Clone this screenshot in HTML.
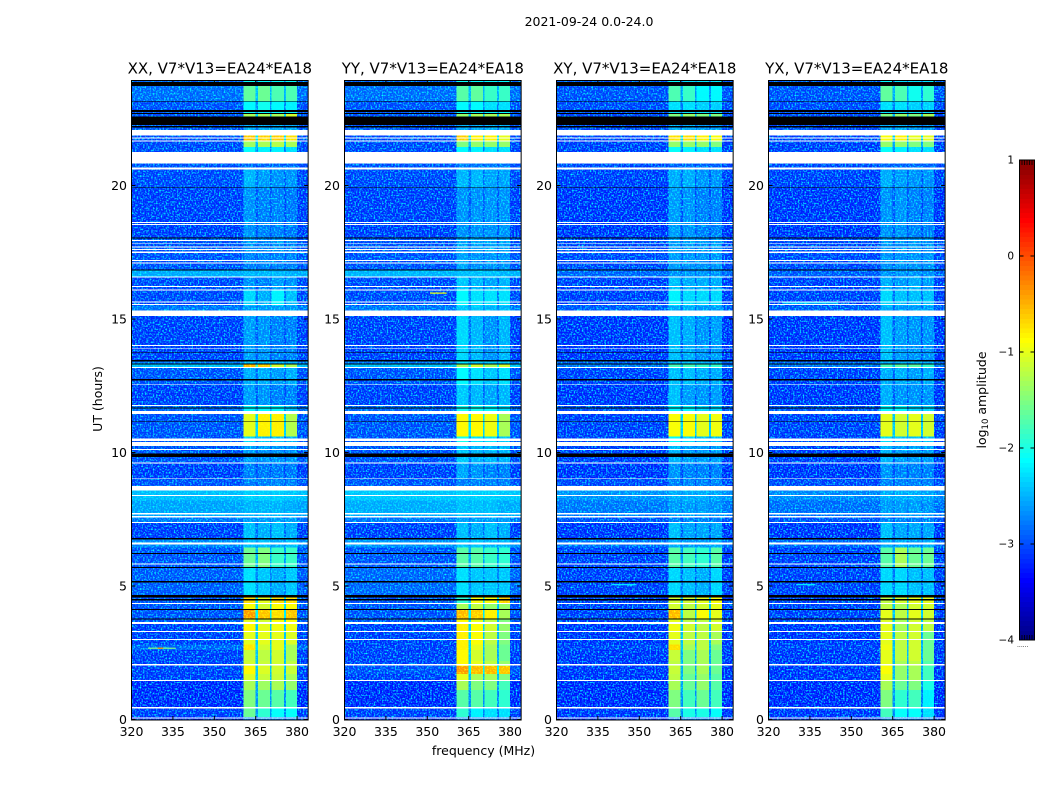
<!DOCTYPE html>
<html>
<head>
<meta charset="utf-8">
<title>2021-09-24 amplitude waterfall</title>
<style>
html,body{margin:0;padding:0;background:#fff;width:1050px;height:800px;overflow:hidden}
svg{display:block}
text{font-family:"DejaVu Sans","Liberation Sans",sans-serif;fill:#000}
.tick{font-size:12.5px}
.title{font-size:15px}
.speckle{mix-blend-mode:screen}
</style>
</head>
<body>
<svg id="chart" width="1050" height="800" viewBox="0 0 1050 800" xmlns="http://www.w3.org/2000/svg">
  <defs>
    <filter id="speckle" x="0" y="0" width="100%" height="100%" color-interpolation-filters="sRGB">
      <feTurbulence type="fractalNoise" baseFrequency="0.62" numOctaves="1" seed="3"/>
      <feColorMatrix type="matrix" values="0 0 0 0 0  3 0 0 0 -1.35  0 0 0 0 0  0 0 0 0 1"/>
    </filter>
  </defs>
  <text x="589" y="26" text-anchor="middle" class="tick">2021-09-24 0.0-24.0</text>
  <text transform="translate(102,399) rotate(-90)" text-anchor="middle" class="tick">UT (hours)</text>
  <text x="483.5" y="755" text-anchor="middle" class="tick">frequency (MHz)</text>
  <text transform="translate(986,400) rotate(-90)" text-anchor="middle" class="tick">log<tspan font-size="8.5" dy="2">10</tspan><tspan dy="-2"> amplitude</tspan></text>
  <g id="panels"></g>
  <g id="colorbar"></g>
</svg>
<script>
const panelTitles = ["XX, V7*V13=EA24*EA18", "YY, V7*V13=EA24*EA18", "XY, V7*V13=EA24*EA18", "YX, V7*V13=EA24*EA18"];
const xTicks = [320, 335, 350, 365, 380];
const yTicks = [0, 5, 10, 15, 20];
const colorTicks = [1, 0, -1, -2, -3, -4];
const colorTickLabels = ["1", "0", "\u22121", "\u22122", "\u22123", "\u22124"];

/* frequency bin edges (MHz): background, band 1, gap, band 2, gap, band 3, gap, band 4, background */
const freqEdges = [320, 360.6, 365, 365.9, 370.2, 370.8, 375.2, 376, 380, 384];

/* time row edges (hours) */
const rowEdges = [0, .1, .43, 1.1, 1.48, 1.7, 2.0, 2.2, 2.6, 2.8, 3.3, 3.6, 3.79, 4.1, 4.36, 4.66, 5.7, 6.45, 6.79, 7.37, 7.6, 8.2, 8.74, 9.03, 9.6, 10.25, 10.6, 11.44, 11.78, 12.55, 13.16, 13.3, 13.46, 15.11, 15.5, 16.1, 16.55, 16.86, 17.5, 18.06, 19.9, 20.68, 21.26, 21.45, 21.65, 21.88, 22.58, 22.71, 22.83, 23.17, 23.72, 23.93];

/* log10 amplitude per time row: [background, band1, band2, band3, band4] */
const levelsXX = [
[-3.3,-2.8,-2.8,-2.8,-2.8],[-3.2,-1.6,-1.9,-2.1,-2.1],[-3.3,-1.5,-1.6,-1.7,-1.8],[-3.3,-1.3,-1.35,-1.3,-1.4],[-3.2,-1.05,-1.15,-1.15,-1.3],
[-3.2,-.85,-1.05,-1.1,-1.15],[-3.2,-1.1,-1.15,-1.1,-1.2],[-3.2,-1.15,-1.2,-1.1,-1.3],[-3.0,-.75,-1.1,-1.0,-1.3],[-3.2,-1,-1,-1,-1.05],
[-3.2,-.85,-1,-.95,-.95],[-3.1,-1,-1.1,-.9,-.9],[-3.1,-.35,-.55,-.7,-.55],[-3.1,-.9,-1.1,-.9,-.9],[-3.1,-.7,-1.0,-.7,-.7],
[-3.05,-2.3,-2.45,-2.6,-2.45],[-3.1,-1.6,-1.5,-1.85,-1.85],[-2.8,-2.5,-2.5,-2.6,-2.5],[-3.2,-2.5,-2.6,-2.5,-2.6],[-2.9,-2.7,-2.7,-2.7,-2.7],
[-2.65,-2.55,-2.55,-2.55,-2.6],[-2.5,-2.4,-2.4,-2.4,-2.45],[-3.1,-2.85,-2.85,-2.85,-2.85],[-3.2,-2.85,-2.9,-2.9,-2.9],[-3.1,-2.7,-2.75,-2.75,-2.75],
[-3.1,-2.35,-2.5,-2.5,-2.6],[-3.1,-1,-.8,-.8,-1.25],[-3.0,-2.15,-2.15,-2.15,-2.5],[-3.2,-2.7,-2.75,-2.85,-2.85],[-3.1,-2.6,-2.6,-2.7,-2.6],
[-2.5,-.5,-.6,-1.1,-1.3],[-2.9,-2.5,-2.5,-2.6,-2.6],[-3.2,-2.7,-2.75,-2.85,-2.85],[-2.9,-2.7,-2.7,-2.7,-2.7],[-3.15,-2.35,-2.6,-2.2,-2.5],
[-3.15,-2.75,-2.85,-2.7,-2.75],[-2.6,-2.55,-2.55,-2.55,-2.6],[-3.1,-2.85,-2.85,-2.85,-2.85],[-3.1,-2.75,-2.85,-2.75,-2.85],[-3.2,-2.75,-2.85,-2.85,-2.9],
[-3.15,-2.55,-2.7,-2.75,-2.75],[-3.1,-3.0,-3.0,-3.0,-3.0],[-3.15,-2.1,-2.2,-2.2,-2.3],[-3.15,-1.35,-1.3,-1.25,-1.3],[-3.15,-.55,-.6,-.6,-.7],
[-3.1,-2.6,-2.6,-2.6,-2.6],[-3.1,-1.3,-1.3,-1.3,-1.1],[-3.1,-2.15,-2.15,-2.15,-2.15],[-3.1,-2.15,-2.05,-2.15,-2.2],[-2.95,-1.65,-1.6,-1.75,-1.75],
[-3.0,-2.1,-2.15,-2.15,-2.15]];

const levelsYY = [
[-3.3,-2.8,-2.8,-2.8,-2.8],[-3.2,-1.9,-2.2,-2.3,-2.3],[-3.3,-1.7,-1.7,-1.8,-1.9],[-3.3,-1.3,-1.5,-1.5,-1.8],[-3.2,-1.0,-1.3,-1.3,-1.5],
[-3.1,-.35,-.5,-.5,-.55],[-3.2,-.85,-1.0,-1.2,-1.4],[-3.2,-.85,-1.1,-1.3,-1.6],[-3.2,-.8,-1.0,-1.3,-1.6],[-3.2,-.8,-.9,-1.2,-1.5],
[-3.2,-.8,-.9,-1.1,-1.4],[-3.1,-.85,-1.0,-1.2,-1.5],[-3.1,-.5,-.6,-.8,-1.3],[-3.1,-1.3,-1.2,-1.4,-1.4],[-3.1,-1.9,-.9,-.9,-.6],
[-3.0,-2.3,-2.45,-2.45,-2.45],[-3.1,-1.7,-1.7,-1.85,-1.9],[-2.75,-2.45,-2.45,-2.55,-2.55],[-3.2,-2.5,-2.6,-2.5,-2.6],[-2.9,-2.7,-2.7,-2.7,-2.7],
[-2.6,-2.5,-2.5,-2.5,-2.6],[-2.45,-2.4,-2.4,-2.4,-2.45],[-3.1,-2.85,-2.85,-2.85,-2.85],[-3.2,-2.65,-2.75,-2.85,-2.85],[-3.1,-2.45,-2.55,-2.55,-2.55],
[-3.1,-2.05,-2.3,-2.3,-2.45],[-3.1,-.85,-.85,-.95,-1.3],[-3.0,-2.05,-2.05,-2.15,-2.3],[-3.2,-2.45,-2.55,-2.65,-2.55],[-3.1,-2.15,-2.3,-2.45,-2.3],
[-2.5,-1.3,-1.1,-1.3,-1.1],[-2.9,-2.3,-2.45,-2.45,-2.45],[-3.2,-2.35,-2.55,-2.75,-2.55],[-2.9,-2.45,-2.45,-2.55,-2.55],[-3.15,-2.15,-2.3,-2.3,-2.3],
[-3.15,-2.45,-2.55,-2.65,-2.55],[-2.55,-2.5,-2.5,-2.5,-2.55],[-3.1,-2.65,-2.75,-2.75,-2.75],[-3.1,-2.65,-2.65,-2.65,-2.65],[-3.2,-2.75,-2.75,-2.75,-2.75],
[-3.15,-2.55,-2.55,-2.65,-2.65],[-3.1,-2.9,-2.9,-2.9,-2.9],[-3.15,-2.15,-2.2,-2.3,-2.3],[-3.15,-1.5,-1.4,-1.4,-1.4],[-3.15,-.6,-.8,-.8,-1.0],
[-3.1,-2.6,-2.6,-2.6,-2.6],[-3.1,-1.4,-1.3,-1.3,-1.3],[-3.1,-2.15,-2.15,-2.15,-2.15],[-3.1,-2.15,-2.15,-2.3,-2.3],[-2.95,-1.7,-1.65,-1.85,-1.85],
[-3.0,-2.1,-2.15,-2.15,-2.15]];

const levelsXY = [
[-3.3,-2.8,-2.8,-2.8,-2.8],[-3.25,-1.7,-2.0,-2.0,-2.1],[-3.3,-1.5,-1.8,-1.6,-1.8],[-3.3,-1.3,-1.6,-1.4,-1.7],[-3.25,-1.2,-1.6,-1.4,-1.7],
[-3.25,-1.15,-1.5,-1.3,-1.6],[-3.25,-1.2,-1.5,-1.3,-1.6],[-3.25,-1.15,-1.5,-1.3,-1.6],[-3.2,-.7,-1.3,-1.2,-1.5],[-3.25,-1.0,-1.2,-1.2,-1.3],
[-3.25,-.95,-1.1,-1.2,-1.1],[-3.2,-1.0,-1.2,-1.2,-1.1],[-3.2,-.5,-1.2,-.9,-1.0],[-3.2,-1.1,-1.2,-1.1,-1.0],[-3.2,-1.1,-1.1,-1.0,-.9],
[-3.2,-2.35,-2.5,-2.6,-2.35],[-3.2,-1.7,-1.8,-1.9,-1.7],[-2.95,-2.6,-2.7,-2.7,-2.6],[-3.25,-2.5,-2.65,-2.65,-2.65],[-3.1,-2.85,-2.85,-2.85,-2.85],
[-2.9,-2.7,-2.7,-2.7,-2.75],[-2.75,-2.6,-2.6,-2.6,-2.65],[-3.15,-2.85,-2.85,-2.85,-2.85],[-3.25,-2.75,-2.85,-2.85,-2.85],[-3.2,-2.55,-2.7,-2.7,-2.7],
[-3.2,-2.15,-2.35,-2.5,-2.5],[-3.2,-.9,-.9,-1.0,-.95],[-3.1,-2.15,-2.15,-2.35,-2.35],[-3.25,-2.5,-2.7,-2.75,-2.7],[-3.2,-2.5,-2.5,-2.6,-2.6],
[-2.9,-1.8,-1.8,-1.9,-1.9],[-3.0,-2.5,-2.5,-2.6,-2.6],[-3.25,-2.5,-2.6,-2.75,-2.7],[-3.05,-2.6,-2.6,-2.7,-2.7],[-3.2,-2.2,-2.35,-2.35,-2.35],
[-3.2,-2.5,-2.6,-2.6,-2.6],[-3.0,-2.75,-2.75,-2.75,-2.75],[-3.15,-2.7,-2.75,-2.75,-2.75],[-3.15,-2.7,-2.7,-2.75,-2.7],[-3.25,-2.7,-2.75,-2.85,-2.85],
[-3.2,-2.6,-2.6,-2.75,-2.75],[-3.15,-3.0,-3.0,-3.0,-3.0],[-3.2,-2.1,-2.2,-2.3,-2.3],[-3.2,-1.4,-1.4,-1.4,-1.5],[-3.2,-.7,-.7,-.8,-.9],
[-3.15,-2.6,-2.6,-2.7,-2.7],[-3.15,-1.5,-1.4,-1.5,-1.5],[-3.15,-2.3,-2.3,-2.3,-2.3],[-3.15,-2.3,-2.3,-2.4,-2.4],[-3.1,-1.75,-1.85,-2.15,-2.15],
[-3.05,-2.15,-2.3,-2.3,-2.3]];

const levelsYX = [
[-3.3,-2.8,-2.8,-2.8,-2.8],[-3.25,-1.8,-2.1,-2.1,-2.3],[-3.3,-1.5,-1.9,-1.8,-2.2],[-3.3,-1.3,-1.6,-1.5,-2.0],[-3.25,-1.0,-1.4,-1.3,-1.8],
[-3.25,-.9,-1.4,-1.3,-1.8],[-3.25,-1.0,-1.3,-1.2,-1.7],[-3.25,-1.0,-1.2,-1.1,-1.6],[-3.2,-.95,-1.2,-1.1,-1.6],[-3.25,-1.0,-1.2,-1.1,-1.6],
[-3.25,-1.0,-1.3,-1.1,-1.2],[-3.2,-1.05,-1.3,-1.1,-1.2],[-3.2,-1.0,-1.2,-1.0,-1.1],[-3.2,-1.2,-1.3,-1.1,-1.1],[-3.2,-1.2,-1.1,-1.0,-1.0],
[-3.2,-2.35,-2.35,-2.5,-2.5],[-3.2,-1.7,-1.3,-1.6,-1.6],[-3.0,-2.6,-2.6,-2.7,-2.6],[-3.25,-2.5,-2.65,-2.65,-2.65],[-3.1,-2.85,-2.85,-2.85,-2.85],
[-2.95,-2.7,-2.7,-2.7,-2.75],[-2.8,-2.6,-2.6,-2.6,-2.65],[-3.15,-2.85,-2.85,-2.85,-2.85],[-3.25,-2.75,-2.85,-2.85,-2.85],[-3.2,-2.55,-2.7,-2.7,-2.7],
[-3.2,-2.35,-2.5,-2.5,-2.5],[-3.2,-1.0,-1.1,-1.0,-1.1],[-3.1,-2.15,-2.15,-2.35,-2.35],[-3.25,-2.6,-2.75,-2.75,-2.75],[-3.2,-2.6,-2.6,-2.7,-2.6],
[-2.9,-1.8,-1.7,-1.7,-1.9],[-3.0,-2.6,-2.6,-2.6,-2.6],[-3.25,-2.5,-2.7,-2.75,-2.75],[-3.05,-2.6,-2.7,-2.7,-2.7],[-3.2,-2.35,-2.5,-2.5,-2.5],
[-3.2,-2.6,-2.7,-2.6,-2.7],[-3.05,-2.75,-2.75,-2.75,-2.75],[-3.15,-2.75,-2.75,-2.75,-2.75],[-3.15,-2.7,-2.75,-2.7,-2.75],[-3.25,-2.75,-2.75,-2.85,-2.85],
[-3.2,-2.6,-2.7,-2.75,-2.75],[-3.15,-3.0,-3.0,-3.0,-3.0],[-3.2,-2.1,-2.2,-2.3,-2.3],[-3.2,-1.4,-1.4,-1.5,-1.5],[-3.2,-.9,-.8,-1.0,-1.0],
[-3.15,-2.6,-2.6,-2.7,-2.7],[-3.15,-1.5,-1.4,-1.5,-1.3],[-3.15,-2.3,-2.3,-2.3,-2.3],[-3.15,-2.3,-2.3,-2.4,-2.4],[-3.1,-1.65,-1.75,-2.05,-1.9],
[-3.05,-2.15,-2.3,-2.3,-2.3]];

const panelLevels = [levelsXX, levelsYY, levelsXY, levelsYX];

/* narrow interference streaks: [panel index, hour, start MHz, end MHz, level] */
const streaks = [[0, 2.67, 326, 336, -1.5], [0, 2.67, 329.5, 331.5, -0.3], [1, 15.97, 351, 357, -0.9], [3, 15.6, 325, 345, -2.2], [3, 5.05, 330, 337, -2.2], [2, 5.05, 340, 349, -2.2]];

/* time spans with no data drawn white: [start hour, end hour] */
const whiteSpans = [[21.88,22.08],[21.76,21.80],[21.65,21.68],[20.83,21.26],[20.60,20.68],[18.60,18.64],[18.52,18.56],[17.92,17.96],[17.80,17.83],[17.67,17.71],[17.58,17.62],[17.48,17.52],[17.17,17.21],[17.07,17.11],[16.55,16.59],[16.20,16.23],[16.07,16.11],[15.61,15.65],[15.52,15.56],[15.11,15.31],[13.99,14.03],[13.89,13.92],[13.16,13.20],[12.52,12.55],[11.74,11.78],[11.44,11.56],[10.43,10.53],[10.25,10.39],[10.09,10.13],[9.59,9.63],[9.00,9.03],[8.57,8.74],[8.37,8.41],[7.67,7.74],[7.57,7.63],[7.36,7.40],[6.55,6.62],[5.81,5.85],[4.32,4.36],[3.58,3.65],[3.27,3.31],[2.97,3.01],[2.03,2.07],[1.44,1.48],[0.42,0.46],[0.04,0.08]];

/* flagged time spans drawn black: [start hour, end hour] */
const blackSpans = [[23.72,23.87],[23.14,23.17],[22.76,22.83],[22.68,22.71],[22.26,22.58],[22.18,22.23],[19.90,19.93],[18.02,18.06],[16.82,16.86],[13.74,13.77],[13.41,13.46],[13.29,13.34],[12.70,12.76],[11.65,11.69],[11.14,11.17],[9.84,9.97],[6.75,6.79],[6.20,6.24],[5.67,5.71],[5.14,5.18],[4.56,4.66],[4.45,4.52],[4.10,4.14],[3.75,3.79]];

const SVGNS = "http://www.w3.org/2000/svg";
const panelLeft = [131.5, 344.5, 556.5, 768.5];

function xScale(panel, mhz) { return panelLeft[panel] + (mhz - 320) * 2.76; }
function yScale(hour) { return 719.5 - hour * 26.7; }
function colorScale(level) { return 640 - (level + 4) * 96; }

function jetChannel(v) { return Math.max(0, Math.min(1, 1.5 - Math.abs(4 * v))); }
function jet(level) {
  const f = Math.max(0, Math.min(1, (level + 4) / 5));
  const r = Math.round(255 * jetChannel(f - 0.75));
  const g = Math.round(255 * jetChannel(f - 0.5));
  const b = Math.round(255 * jetChannel(f - 0.25));
  return "rgb(" + r + "," + g + "," + b + ")";
}
function columnLevels(row) {
  const bg = row[0];
  const gap12 = bg + 0.35 * ((row[1] + row[2]) / 2 - bg);
  const gap23 = bg + 0.35 * ((row[2] + row[3]) / 2 - bg);
  const gap34 = bg + 0.35 * ((row[3] + row[4]) / 2 - bg);
  return [bg, row[1], gap12, row[2], gap23, row[3], gap34, row[4], bg];
}
function makeShape(parent, tag, attrs) {
  const node = document.createElementNS(SVGNS, tag);
  for (const key in attrs) node.setAttribute(key, attrs[key]);
  parent.appendChild(node);
  return node;
}

const panelsGroup = document.getElementById("panels");
panelTitles.forEach(function (title, p) {
  const g = makeShape(panelsGroup, "g", {});
  
  
  const left = xScale(p, 320), right = xScale(p, 384), top = yScale(23.93), bottom = 720;

  const cells = makeShape(g, "g", { "shape-rendering": "crispEdges" });
  
  
  panelLevels[p].forEach(function (row, r) {
    const columns = columnLevels(row);
    const yTop = yScale(rowEdges[r + 1]);
    const yBottom = r === 0 ? bottom : yScale(rowEdges[r]);
    columns.forEach(function (level, c) {
      const x0 = xScale(p, freqEdges[c]), x1 = xScale(p, freqEdges[c + 1]);
      const cell = makeShape(cells, "rect", { x: x0, y: yTop, width: x1 - x0, height: yBottom - yTop, fill: jet(level) });
      
      
    });
  });

  const texture = makeShape(g, "rect", { x: left, y: top, width: right - left, height: bottom - top, filter: "url(#speckle)", "class": "speckle" });
  
  

  streaks.filter(function (s) { return s[0] === p; }).forEach(function (s) {
    const x0 = xScale(p, s[2]), x1 = xScale(p, s[3]);
    const streak = makeShape(g, "rect", { x: x0, y: yScale(s[1]) - 0.6, width: x1 - x0, height: 1.2, fill: jet(s[4]) });
    
    
  });

  const masks = makeShape(g, "g", { "shape-rendering": "crispEdges" });
  
  
  whiteSpans.forEach(function (span) {
    const yTop = yScale(span[1]);
    const band = makeShape(masks, "rect", { x: left, y: yTop, width: right - left, height: yScale(span[0]) - yTop, fill: "#fff" });
    
    
  });
  blackSpans.forEach(function (span) {
    const yTop = yScale(span[1]);
    const band = makeShape(masks, "rect", { x: left, y: yTop, width: right - left, height: yScale(span[0]) - yTop, fill: "#000" });
    
    
  });

  const frame = makeShape(g, "rect", { x: left, y: 80.5, width: right - left, height: 639.5, fill: "none", stroke: "#000", "stroke-width": 1 });
  
  

  const panelTitle = makeShape(g, "text", { x: (left + right) / 2, y: 73.5, "text-anchor": "middle", "class": "title" });
  panelTitle.textContent = title;
  
  

  xTicks.forEach(function (tick) {
    const x = xScale(p, tick);
    const lower = makeShape(g, "line", { x1: x, x2: x, y1: 720, y2: 716, stroke: "#000" });
    
    
    const upper = makeShape(g, "line", { x1: x, x2: x, y1: 80.5, y2: 84.5, stroke: "#000" });
    
    
    const label = makeShape(g, "text", { x: x, y: 736, "text-anchor": "middle", "class": "tick" });
    label.textContent = String(tick);
    
    
  });
  yTicks.forEach(function (tick) {
    const y = yScale(tick);
    const leftTick = makeShape(g, "line", { x1: left, x2: left + 4, y1: y, y2: y, stroke: "#000" });
    
    
    const rightTick = makeShape(g, "line", { x1: right, x2: right - 4, y1: y, y2: y, stroke: "#000" });
    
    
    const label = makeShape(g, "text", { x: left - 4.5, y: y + 4.5, "text-anchor": "end", "class": "tick" });
    label.textContent = String(tick);
    
    
  });
});

const barGroup = document.getElementById("colorbar");
const barLeft = 1019.5, barRight = 1034.5;
const barSteps = 100;
for (let i = 0; i < barSteps; i++) {
  const level = -4 + 5 * i / barSteps;
  const y = colorScale(level + 5 / barSteps);
  const slab = makeShape(barGroup, "rect", { x: barLeft, y: y, width: barRight - barLeft, height: 4.8 + (i > 0 ? 0.4 : 0), fill: jet(level + 2.5 / barSteps), "shape-rendering": "crispEdges" });
  
  
}
const barFrame = makeShape(barGroup, "rect", { x: barLeft, y: 160, width: barRight - barLeft, height: 480, fill: "none", stroke: "#000", "stroke-width": 1 });


colorTicks.forEach(function (tick, i) {
  const y = colorScale(tick);
  const leftTick = makeShape(barGroup, "line", { x1: barLeft, x2: barLeft + 4, y1: y, y2: y, stroke: "#000" });
  
  
  const rightTick = makeShape(barGroup, "line", { x1: barRight, x2: barRight - 4, y1: y, y2: y, stroke: "#000" });
  
  
  const label = makeShape(barGroup, "text", { x: 1014, y: y + 3.5, "text-anchor": "end", "font-size": "10.5" });
  label.textContent = colorTickLabels[i];
  
  
});
for (let i = 1; i < 6; i++) {
  const x = barLeft + i * 2.5;
  const topMark = makeShape(barGroup, "line", { x1: x, x2: x, y1: 160, y2: 165, stroke: "#000", "stroke-width": 0.8 });
  
  
  const bottomMark = makeShape(barGroup, "line", { x1: x, x2: x, y1: 635, y2: 640, stroke: "#000", "stroke-width": 0.8 });
  
  
}
const barDots = makeShape(barGroup, "text", { x: 1017, y: 647, "font-size": "6", fill: "#666" });
barDots.textContent = "......";


</script>
</body>
</html>
